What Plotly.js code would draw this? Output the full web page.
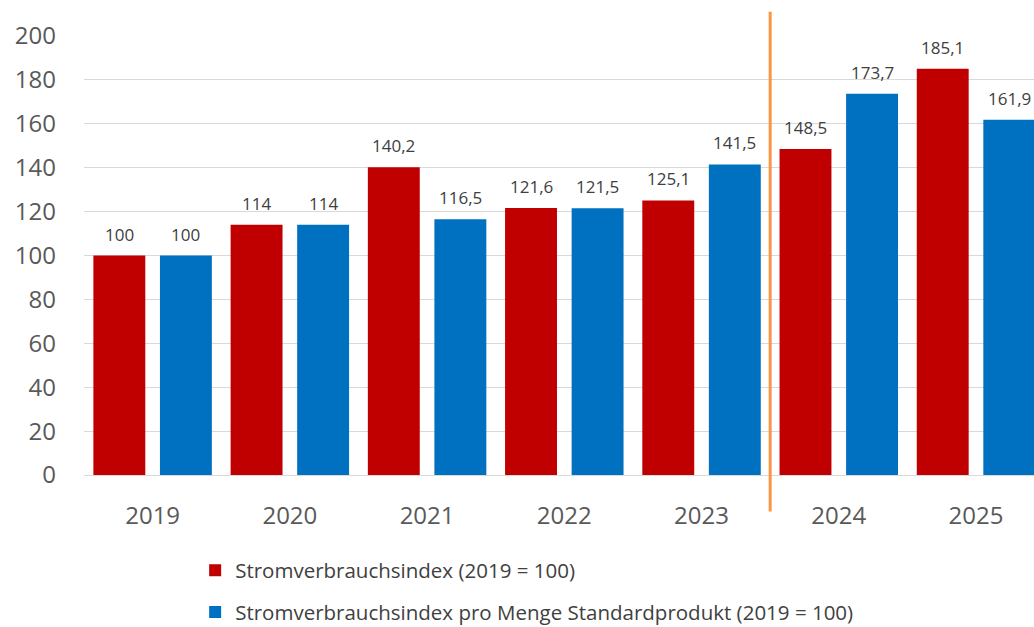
<!DOCTYPE html>
<html>
<head>
<meta charset="utf-8">
<script src="https://cdn.plot.ly/plotly-3.0.1.min.js"></script>
<style>html,body{margin:0;padding:0;background:#fff;}#chart{width:1034px;height:627px;}</style>
</head>
<body>
<div id="chart"></div>
<script>
var years = ['2019', '2020', '2021', '2022', '2023', '2024', '2025'];
var stromIndex = [100, 114, 140.2, 121.6, 125.1, 148.5, 185.1];
var stromProMenge = [100, 114, 116.5, 121.5, 141.5, 173.7, 161.9];
var seriesNames = ['Stromverbrauchsindex (2019 = 100)', 'Stromverbrauchsindex pro Menge Standardprodukt (2019 = 100)'];
var yTicks = [0, 20, 40, 60, 80, 100, 120, 140, 160, 180, 200];

function fmt(v) { return String(v).replace('.', ','); }

var bargap = 0.03;
var xRange = [-0.5, 6.4226];
var slotOffset = (1 - bargap) / 4;

var annotations = [];
[stromIndex, stromProMenge].forEach(function (arr, s) {
  arr.forEach(function (v, i) {
    annotations.push({
      x: i + (s === 0 ? -slotOffset : slotOffset), xref: 'x',
      y: v, yref: 'y', yanchor: 'bottom', yshift: 8,
      text: fmt(v), showarrow: false,
      font: {family: 'Open Sans, sans-serif', size: 17, color: '#404040'}
    });
  });
});

var lineX = (4.5 - xRange[0]) / (xRange[1] - xRange[0]);

var traces = [
  {type: 'bar', x: years, y: stromIndex, name: seriesNames[0], legendgroup: 'a',
   marker: {color: '#C00000'}, hoverinfo: 'y'},
  {type: 'bar', x: years, y: stromProMenge, name: seriesNames[1], legendgroup: 'b',
   marker: {color: '#0070C0'}, hoverinfo: 'y'}
];

var layout = {
  width: 1034, height: 627,
  margin: {l: 84, r: 0, t: 36, b: 152, autoexpand: false},
  paper_bgcolor: '#fff', plot_bgcolor: '#fff',
  barmode: 'group', bargap: bargap, bargroupgap: 0.22,
  showlegend: true,
  legend: {x: 0.117, xanchor: 'left', y: -0.172, yanchor: 'top', orientation: 'v',
    traceorder: 'grouped', tracegroupgap: 12, itemwidth: 30,
    font: {family: 'Open Sans, sans-serif', size: 20.5, color: '#404040'}},
  xaxis: {type: 'category', range: xRange, showgrid: false, zeroline: false, showline: false,
    ticks: '', ticklabelstandoff: 24,
    tickfont: {family: 'Open Sans, sans-serif', size: 24, color: '#595959'}},
  yaxis: {range: [0, 200], tickvals: yTicks, showgrid: true, gridcolor: '#d9d9d9', gridwidth: 1,
    zeroline: true, zerolinecolor: '#d9d9d9', zerolinewidth: 1, showline: false, ticks: '',
    ticklabelstandoff: 27,
    tickfont: {family: 'Open Sans, sans-serif', size: 24, color: '#595959'}},
  annotations: annotations,
  shapes: [{type: 'line', xref: 'paper', yref: 'paper', x0: lineX, x1: lineX, y0: -0.083, y1: 1.055,
    line: {color: '#F79646', width: 3}, layer: 'above'}]
};

Plotly.newPlot('chart', traces, layout, {displayModeBar: false, staticPlot: true});
</script>
</body>
</html>
